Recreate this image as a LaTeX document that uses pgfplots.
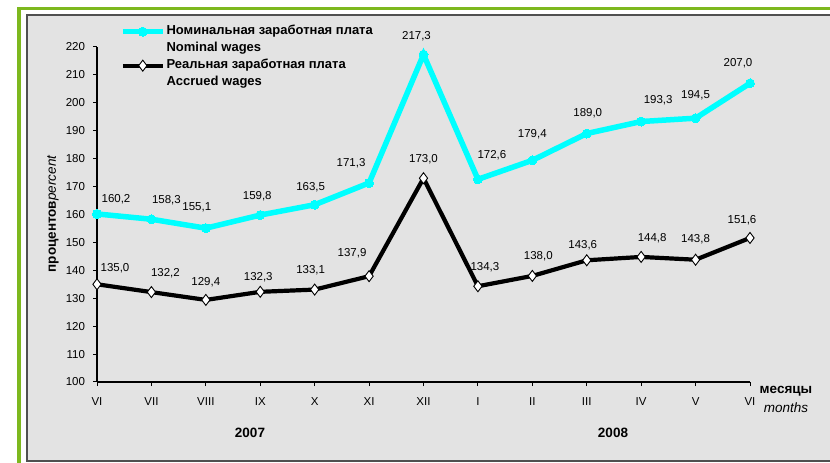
\documentclass[border=0pt]{standalone}
\usepackage{pgfplots}
\pgfplotsset{compat=1.18}
\usepackage{pgfplotstable}
\usepackage{fontspec}
\setmainfont{Liberation Sans}
\definecolor{grn}{HTML}{7DB81E}
\definecolor{panel}{HTML}{E3E3E3}
\definecolor{bgray}{HTML}{505050}
\definecolor{cyanl}{HTML}{00FFFF}

\pgfplotstableread{
x y dx dy
0 160.2 19 15
1 158.3 15 19
2 155.1 -9 21
3 159.8 -3 19
4 163.5 -4 18
5 171.3 -18 20
6 217.3 -7 18
7 172.6 14 24
8 179.4 0 26
9 189.0 1 20
10 193.3 17 21
11 194.5 0 23
12 207.0 -12 20
}\nominal

\pgfplotstableread{
x y dx dy
0 135.0 18 16
1 132.2 14 19
2 129.4 0 18
3 132.3 -2 15
4 133.1 -4 19
5 137.9 -17 23
6 173.0 0 19
7 134.3 7 19
8 138.0 6 20
9 143.6 -4 15
10 144.8 11 19
11 143.8 0 21
12 151.6 -8 18
}\real

\begin{document}
\fontsize{11.5}{13}\selectfont
\begin{tikzpicture}[x=1pt,y=1pt]
\path[use as bounding box] (0,0) rectangle (830,463);
\fill[white] (0,0) rectangle (830,463);
\fill[grn] (17,0) rectangle (21,456);
\fill[grn] (17,453) rectangle (830,456);
\fill[panel] (27,2) rectangle (830,448);
\draw[bgray, line width=1.5pt] (830,448) -- (27,448) -- (27,2) -- (830,2);

\begin{axis}[
  at={(97pt,81pt)}, anchor=south west,
  scale only axis, width=653pt, height=335pt,
  xmin=0, xmax=12, ymin=100, ymax=220,
  clip=false,
  axis x line*=bottom, axis y line*=left,
  axis line style={-, line width=1.1pt, black},
  tick align=outside, major tick length=4pt,
  tick style={line width=1pt, black},
  xtick={0,...,12},
  xticklabels={VI,VII,VIII,IX,X,XI,XII,I,II,III,IV,V,VI},
  ytick={100,110,...,220},
  xticklabel style={yshift=-8pt},
  yticklabel style={xshift=-4pt},
  /pgf/number format/assume math mode=true,
  tick label style={font=\fontsize{11.5}{13}\selectfont},
  visualization depends on={\thisrow{dx} \as \dx},
  visualization depends on={\thisrow{dy} \as \dy},
  nodes near coords={\pgfmathprintnumber[fixed,fixed zerofill,precision=1,use comma]{\pgfplotspointmeta}},
  point meta=y,
  every node near coord/.append style={anchor=center, xshift=\dx pt, yshift=\dy pt, font=\fontsize{11.5}{13}\selectfont, text=black},
  legend image code/.code={\draw[mark repeat=2,mark phase=2,#1] plot coordinates {(0pt,0pt)(20pt,0pt)(40pt,0pt)};},
  legend style={draw=none, fill=none, at={(axis description cs:0.035,1.068)}, anchor=north west,
    font=\bfseries\fontsize{13}{15}\selectfont, cells={anchor=west}, row sep=2.5pt, inner sep=0pt,
    nodes={inner sep=1pt, text height=9.5pt, text depth=3pt}},
]
\addplot[cyanl, line width=5.5pt, mark=*, mark size=4.5pt, mark options={fill=cyanl, draw=cyanl, line width=0pt}]
  table[x=x, y=y] {\nominal};
\addlegendentry{Номинальная заработная плата}
\addlegendimage{empty legend}
\addlegendentry{Nominal wages}
\addplot[black, line width=4.2pt, mark=diamond*, mark size=5.5pt, mark options={fill=white, draw=black, line width=0.9pt}]
  table[x=x, y=y] {\real};
\addlegendentry{Реальная заработная плата}
\addlegendimage{empty legend}
\addlegendentry{Accrued wages}
\end{axis}

\node[rotate=90] at (53,249) {{\bfseries\fontsize{13.5}{15}\selectfont процентов}{\itshape\fontsize{13.5}{15}\selectfont percent}};
\node[font=\bfseries\fontsize{13.5}{15}\selectfont] at (786,72) {месяцы};
\node[font=\itshape\fontsize{13.5}{15}\selectfont] at (786,55) {months};
\node[font=\bfseries\fontsize{13.5}{15}\selectfont] at (250,30) {2007};
\node[font=\bfseries\fontsize{13.5}{15}\selectfont] at (613,30) {2008};
\end{tikzpicture}
\end{document}
